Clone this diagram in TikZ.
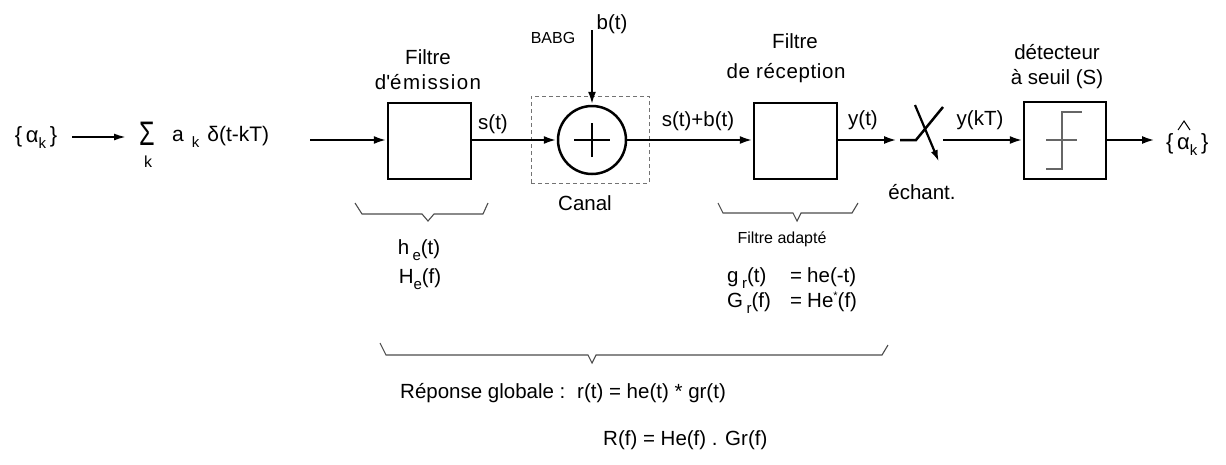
\documentclass[tikz,border=0pt]{standalone}
\usepackage{fontspec}
\setmainfont{Liberation Sans}
\usetikzlibrary{arrows.meta}
\newcommand{\lsub}[1]{\raisebox{-6pt}{\fontsize{15}{15}\selectfont #1}}
\begin{document}
\begin{tikzpicture}[x=1pt,y=-1pt,
  lbl/.style={font=\fontsize{20.5}{24}\selectfont, inner sep=0pt},
  biglbl/.style={font=\fontsize{22}{26}\selectfont, inner sep=0pt},
  smalltxt/.style={font=\fontsize{16}{19}\selectfont, inner sep=0pt},
  blk/.style={draw, line width=2.5pt, minimum width=83pt, minimum height=76pt, inner sep=0pt},
  wire/.style={line width=2.5pt},
  arr/.style={wire, -{Latex[length=13pt,width=8pt]}},
  bracepath/.style={line width=1.1pt, draw=black!70, line join=miter},
]
\useasboundingbox (0,0) rectangle (1226,464);

% input sequence
\node[biglbl] (ak) at (36,138) {\{\,α\lsub{k}\,\}};
\node[inner sep=0pt, font=\fontsize{34}{34}\selectfont] (sum) at (147,134) {\scalebox{0.74}[1]{Σ}};
\node[smalltxt] (sumk) at (148,162) {k};
\node[font=\fontsize{21}{25}\selectfont, inner sep=0pt, anchor=west] (seq) at (172,137) {a\hspace{8pt}\lsub{k}\hspace{8pt}δ(t-kT)};
\draw[line width=1.8pt, -{Latex[length=12pt,width=7pt]}] (72,137) coordinate (akout) -- (126,137) coordinate (sumin);

% emission filter
\coordinate (inp) at (310,140);
\node[blk] (fe) at (429.5,141) {};
\draw[arr] (inp) -- (fe.west |- inp);
\node[lbl] (fel1) at (428,57) {Filtre};
\node[lbl] (fel2) at (428,82) {\addfontfeature{LetterSpace=7}d\textquotesingle émission};
\node[lbl] (st) at (493,124) {s(t)};

% channel
\node[draw=black!55, dashed, dash pattern=on 4pt off 3pt, line width=1pt, minimum width=118pt, minimum height=87pt, inner sep=0pt] (canalbox) at (590,139.5) {};
\node[draw, circle, line width=2.5pt, minimum size=68pt, inner sep=0pt] (add) at (592,140) {};
\draw[line width=1.7pt] ([xshift=-18pt]add.center) -- ([xshift=18pt]add.center)
                        ([yshift=-17pt]add.center) -- ([yshift=17pt]add.center);
\draw[arr] (fe.east |- add.west) -- (add.west);
\node[smalltxt] (babg) at (553,38) {BABG};
\node[lbl] (bt) at (612,24) {b(t)};
\coordinate (btop) at (592,30);
\draw[arr] (btop) -- (add.north);
\node[lbl] (canal) at (585,203) {Canal};

% reception filter
\node[blk] (fr) at (795.5,141) {};
\draw[arr] (add.east) -- (fr.west |- add.east);
\node[lbl] (sbt) at (698,121) {s(t)+b(t)};
\node[lbl] (frl1) at (795,41) {Filtre};
\node[lbl] (frl2) at (786,73) {\addfontfeature{LetterSpace=3}de réception};
\node[lbl] (yt) at (863,120) {y(t)};

% sampler
\coordinate (swa) at (897,140);
\coordinate (swin) at (900,140);
\coordinate (swp) at (916,140);
\coordinate (swout) at (943,107);
\coordinate (sws) at (915,105);
\coordinate (swe) at (939,162);
\coordinate (swo) at (943,140);
\draw[arr] (fr.east |- swa) -- (swa);
\draw[wire] (swin) -- (swp) -- (swout);
\draw[line width=2.2pt, -{Latex[length=12pt,width=7pt]}] (sws) -- (swe);
\node[lbl] (ech) at (922,192) {échant.};
\node[lbl] (ykt) at (980,120) {y(kT)};

% detector
\node[blk, minimum width=82pt, minimum height=77pt] (det) at (1065,140.5) {};
\draw[arr] (swo) -- (det.west |- swo);
\draw[line width=1.7pt, black!60] (1046,169) -- (1062,169) -- (1062,112) -- (1082,112)
                                 (1046,140) -- (1077,140);
\node[lbl] (detl1) at (1057,52) {détecteur};
\node[lbl] (detl2) at (1057,79) {à seuil (S)};
\node[biglbl, anchor=west] (ahat) at (1166,145) {\{\,α\lsub{k}\,\}};
\draw[line width=1pt] ([shift={(12,-15)}]ahat.west) -- ([shift={(18,-24)}]ahat.west) -- ([shift={(24,-15)}]ahat.west);
\draw[arr] (det.east |- 0,140) -- (1155,140) coordinate (outend);

% braces
\draw[bracepath] (355,203) -- (362,214) -- (422,214) -- (428,221) -- (434,214) -- (483,214) -- (488,203);
\draw[bracepath] (718,203) -- (723,213) -- (793,213) -- (797,221) -- (801,213) -- (852,213) -- (858,203);
\draw[bracepath] (380,343) -- (386,355) -- (588,355) -- (592,363) -- (596,355) -- (882,355) -- (888,345);

% lower texts
\node[lbl, anchor=base] (he) at (419,254) {h\,\lsub{e}(t)};
\node[lbl, anchor=base] (Hef) at (420,283) {H\lsub{e}(f)};
\node[smalltxt] (fa) at (782,239) {Filtre adapté};
\node[lbl, anchor=base west] (gr) at (727,282) {g\,\lsub{r}(t)};
\node[lbl, anchor=base] (eq1) at (796,282) {=};
\node[lbl, anchor=base west] (hem) at (807,282) {he(-t)};
\node[lbl, anchor=base west] (Gr) at (727,307) {G\,\lsub{r}(f)};
\node[lbl, anchor=base] (eq2) at (796,307) {=};
\node[lbl, anchor=base west] (Hes) at (807,307) {He\raisebox{8pt}{\fontsize{11}{11}\selectfont *}(f)};
\node[lbl, anchor=base west] (rg) at (400,398) {Réponse globale :};
\node[lbl, anchor=base west] (rt) at (577,398) {r(t) = he(t) * gr(t)};
\node[lbl, anchor=base west] (Rf) at (603,445) {R(f) = He(f) . Gr(f)};
\end{tikzpicture}
\end{document}
